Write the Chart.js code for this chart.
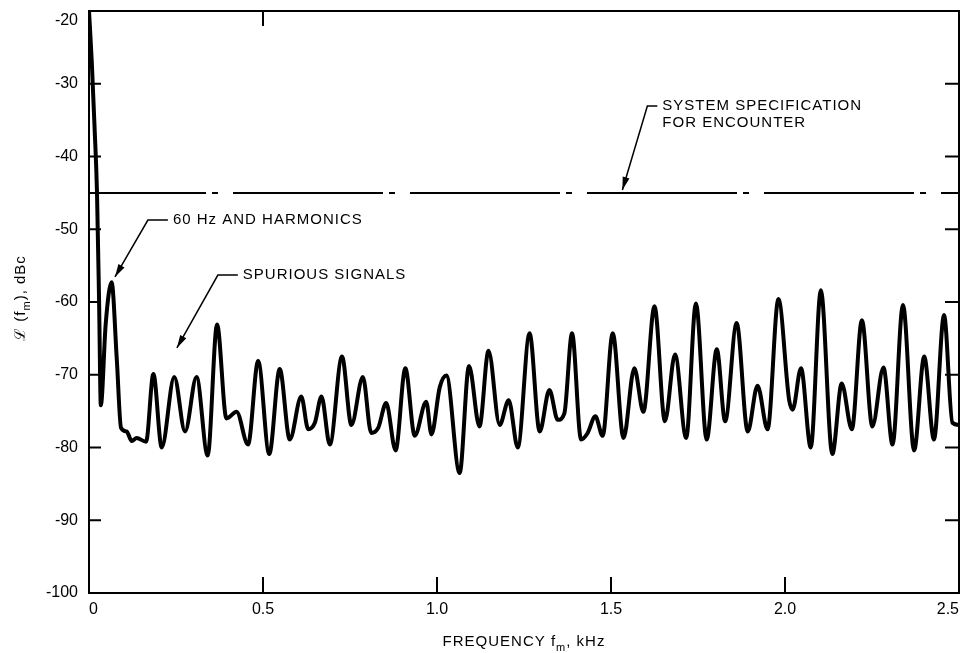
<!DOCTYPE html>
<html>
<head>
<meta charset="utf-8">
<script src="https://cdn.jsdelivr.net/npm/chart.js@4.4.1/dist/chart.umd.min.js"></script>
<style>
  html, body { margin: 0; padding: 0; background: #fff; }
  canvas { display: block; }
</style>
</head>
<body>
<canvas id="chart" width="962" height="653"></canvas>
<script>
// phase-noise trace (kHz, dBc)
const freq = [0, 0.008, 0.016, 0.023, 0.029, 0.034, 0.048, 0.065, 0.08, 0.092,
  0.108, 0.123, 0.137, 0.164, 0.185, 0.209, 0.245, 0.276, 0.309, 0.341,
  0.368, 0.395, 0.424, 0.457, 0.486, 0.518, 0.548, 0.577, 0.610, 0.630,
  0.649, 0.668, 0.692, 0.727, 0.754, 0.787, 0.811, 0.831, 0.854, 0.881,
  0.909, 0.936, 0.969, 0.984, 1.008, 1.027, 1.065, 1.092, 1.122, 1.148,
  1.180, 1.206, 1.232, 1.266, 1.295, 1.323, 1.347, 1.366, 1.388, 1.414,
  1.433, 1.455, 1.476, 1.505, 1.536, 1.567, 1.593, 1.625, 1.655, 1.684,
  1.716, 1.744, 1.775, 1.804, 1.828, 1.861, 1.893, 1.921, 1.950, 1.981,
  2.012, 2.022, 2.046, 2.074, 2.103, 2.136, 2.163, 2.192, 2.221, 2.251,
  2.283, 2.309, 2.339, 2.371, 2.400, 2.428, 2.457, 2.481, 2.5];
const level = [-20, -27, -36, -45, -60, -74.2, -63, -57.3, -68, -77.3,
  -77.8, -79.1, -78.7, -79.2, -69.9, -80, -70.3, -77.8, -70.3, -81.1,
  -63.1, -76, -75.1, -79.6, -68.1, -80.9, -69.2, -78.9, -73, -77.5,
  -76.6, -73, -79.6, -67.5, -76.9, -70.3, -78, -77.3, -73.9, -80.4,
  -69.1, -78.4, -73.7, -78.2, -71.7, -70.1, -83.5, -68.8, -77.1, -66.7,
  -76.9, -73.5, -80, -64.3, -77.8, -72.1, -76.2, -75.3, -64.3, -78.9,
  -78, -75.7, -78.4, -64.3, -78.7, -69.1, -75.1, -60.6, -76.4, -67.2,
  -78.7, -60.2, -78.9, -66.5, -76.4, -62.9, -77.8, -71.5, -77.5, -59.6,
  -73.5, -74.8, -69.1, -80, -58.4, -80.9, -71.2, -77.5, -62.5, -77.1,
  -69, -79.6, -60.4, -80.4, -67.5, -78.9, -61.8, -76.6, -76.9];

// spec limit for Encounter
const specFreq = [0, 2.5];
const specLevel = [-45, -45];

const xTicks = [0, 0.5, 1.0, 1.5, 2.0, 2.5];
const yTicks = [-100, -90, -80, -70, -60, -50, -40, -30, -20];
const topTicks = [0.5];

// callouts: text anchor, elbow of the leader, arrow tip (data units)
const notes = [
  { text: ['SYSTEM SPECIFICATION', 'FOR ENCOUNTER'], at: [1.6475, -33.06], elbow: [1.6045, -33.06], tip: [1.5327, -44.6] },
  { text: ['60 Hz AND HARMONICS'], at: [0.2411, -48.73], elbow: [0.1693, -48.73], tip: [0.0746, -56.56] },
  { text: ['SPURIOUS SIGNALS'], at: [0.442, -56.29], elbow: [0.3703, -56.29], tip: [0.2526, -66.32] },
];

const FONT = '"Liberation Sans", Arial, Helvetica, sans-serif';
Chart.defaults.font.family = FONT;
Chart.defaults.color = '#000';

// draws text pieces in a row, some of them as subscripts
function drawParts(ctx, parts, cx, base, size) {
  const fonts = parts.map(p => (p.sub ? Math.round(size * 0.72) : size) + 'px ' + FONT);
  let w = 0;
  parts.forEach((p, i) => { ctx.font = fonts[i]; w += ctx.measureText(p.t).width; });
  let x = cx - w / 2;
  ctx.textAlign = 'left';
  ctx.textBaseline = 'alphabetic';
  parts.forEach((p, i) => {
    ctx.font = fonts[i];
    ctx.fillText(p.t, x, base + (p.sub ? size * 0.3 : 0));
    x += ctx.measureText(p.t).width;
  });
}

const decor = {
  id: 'decor',
  afterDraw(chart) {
    const { ctx, chartArea: a, scales: { x, y } } = chart;
    ctx.save();
    ctx.strokeStyle = '#000';
    ctx.fillStyle = '#000';
    ctx.lineWidth = 2;
    ctx.strokeRect(a.left, a.top, a.right - a.left, a.bottom - a.top);

    // inward tick marks
    ctx.beginPath();
    yTicks.forEach(v => {
      const py = y.getPixelForValue(v);
      ctx.moveTo(a.left, py); ctx.lineTo(a.left + 12, py);
      ctx.moveTo(a.right, py); ctx.lineTo(a.right - 14, py);
    });
    xTicks.slice(1, -1).forEach(v => {
      const px = x.getPixelForValue(v);
      ctx.moveTo(px, a.bottom); ctx.lineTo(px, a.bottom - 16);
    });
    topTicks.forEach(v => {
      const px = x.getPixelForValue(v);
      ctx.moveTo(px, a.top); ctx.lineTo(px, a.top + 15);
    });
    ctx.stroke();

    // callouts with arrows
    ctx.letterSpacing = '1px';
    ctx.font = '15px ' + FONT;
    ctx.textAlign = 'left';
    ctx.textBaseline = 'middle';
    ctx.lineWidth = 1.5;
    notes.forEach(n => {
      const tx = x.getPixelForValue(n.at[0]), ty = y.getPixelForValue(n.at[1]);
      const ex = x.getPixelForValue(n.elbow[0]), ey = y.getPixelForValue(n.elbow[1]);
      const px = x.getPixelForValue(n.tip[0]), py = y.getPixelForValue(n.tip[1]);
      n.text.forEach((t, i) => ctx.fillText(t, tx, ty + i * 17));
      ctx.beginPath();
      ctx.moveTo(tx - 5, ey);
      ctx.lineTo(ex, ey);
      ctx.lineTo(px, py);
      ctx.stroke();
      const ang = Math.atan2(py - ey, px - ex);
      ctx.beginPath();
      ctx.moveTo(px, py);
      ctx.lineTo(px - 13 * Math.cos(ang) + 3.5 * Math.sin(ang), py - 13 * Math.sin(ang) - 3.5 * Math.cos(ang));
      ctx.lineTo(px - 13 * Math.cos(ang) - 3.5 * Math.sin(ang), py - 13 * Math.sin(ang) + 3.5 * Math.cos(ang));
      ctx.closePath();
      ctx.fill();
    });

    // axis titles
    drawParts(ctx, [{ t: 'FREQUENCY f' }, { t: 'm', sub: true }, { t: ', kHz' }],
      (a.left + a.right) / 2, 646, 15);
    ctx.translate(25, (a.top + a.bottom) / 2 - 4);
    ctx.rotate(-Math.PI / 2);
    drawParts(ctx, [{ t: 'ℒ (f' }, { t: 'm', sub: true }, { t: '), dBc' }], 0, 0, 15);
    ctx.restore();
  }
};

new Chart(document.getElementById('chart'), {
  type: 'line',
  data: {
    datasets: [
      {
        data: freq.map((f, i) => ({ x: f, y: level[i] })),
        borderColor: '#000',
        borderWidth: 4,
        pointRadius: 0,
        cubicInterpolationMode: 'monotone',
      },
      {
        data: specFreq.map((f, i) => ({ x: f, y: specLevel[i] })),
        borderColor: '#000',
        borderWidth: 2,
        pointRadius: 0,
        borderDash: [150, 6, 6, 15],
        borderDashOffset: 33,
      },
    ],
  },
  options: {
    responsive: false,
    animation: false,
    devicePixelRatio: 1,
    layout: { autoPadding: false, padding: { left: 0, right: 3, top: 11, bottom: 0 } },
    plugins: { legend: { display: false }, tooltip: { enabled: false } },
    scales: {
      x: {
        type: 'linear',
        min: 0,
        max: 2.5,
        afterFit: s => { s.height = 60; s.paddingLeft = 0; s.paddingRight = 0; },
        afterBuildTicks: s => { s.ticks = xTicks.map(v => ({ value: v })); },
        grid: { display: false, drawTicks: false },
        border: { display: false },
        ticks: {
          align: 'inner',
          padding: 7,
          color: '#000',
          font: { size: 16 },
          callback: v => (v === 0 ? '0' : v.toFixed(1)),
        },
      },
      y: {
        min: -100,
        max: -20,
        afterFit: s => { s.width = 89; s.paddingTop = 0; s.paddingBottom = 0; },
        afterBuildTicks: s => { s.ticks = yTicks.map(v => ({ value: v })); },
        grid: { display: false, drawTicks: false },
        border: { display: false },
        ticks: {
          padding: 11,
          color: '#000',
          font: { size: 16 },
          // top label sits just below the frame in the original
          callback: v => (v === -20 ? ['', '-20'] : String(v)),
        },
      },
    },
  },
  plugins: [decor],
});
</script>
</body>
</html>
